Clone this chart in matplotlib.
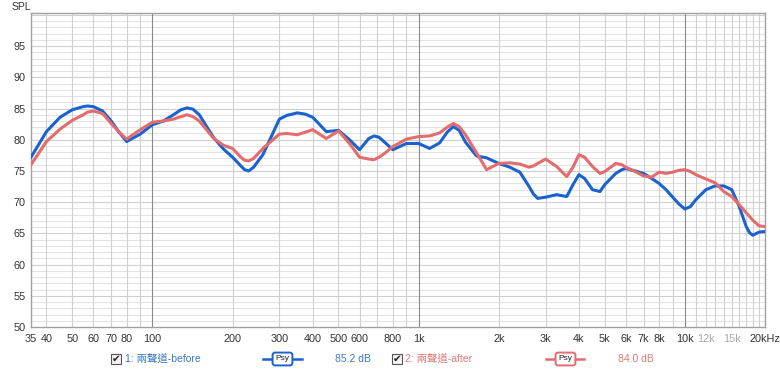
import matplotlib
matplotlib.use('Agg')
import matplotlib.pyplot as plt
from matplotlib.patches import Rectangle
from matplotlib.lines import Line2D

# Frequency response data (Hz, dB SPL)
freq = [35, 40, 45, 50, 55, 57, 60, 65, 70, 75,
        80, 90, 100, 110, 120, 128, 135, 142, 150, 170,
        185, 200, 215, 222, 230, 240, 260, 300, 320, 350,
        375, 400, 450, 500, 550, 600, 650, 680, 710, 750,
        800, 900, 1000, 1100, 1200, 1280, 1350, 1420, 1500, 1650,
        1800, 2000, 2200, 2400, 2600, 2700, 2800, 3000, 3300, 3600,
        3800, 4000, 4200, 4500, 4800, 5000, 5500, 5800, 6000, 6500,
        7000, 7500, 8000, 8500, 9000, 9500, 10000, 10500, 11000, 12000,
        13000, 14000, 15000, 16000, 17000, 17500, 18000, 19000, 20000]

before = [77.2, 81.3, 83.6, 84.8, 85.3, 85.4, 85.3, 84.6, 83.0, 81.2,
          79.7, 80.9, 82.4, 83.0, 84.0, 84.8, 85.1, 84.9, 84.0, 80.3,
          78.5, 77.2, 75.8, 75.2, 75.0, 75.6, 77.6, 83.3, 83.9, 84.3,
          84.1, 83.6, 81.3, 81.5, 80.0, 78.4, 80.2, 80.6, 80.4, 79.5,
          78.4, 79.4, 79.4, 78.6, 79.5, 81.2, 82.1, 81.5, 79.6, 77.4,
          77.1, 76.2, 75.6, 74.8, 72.5, 71.3, 70.6, 70.8, 71.2, 70.9,
          72.8, 74.4, 73.8, 72.0, 71.7, 72.8, 74.6, 75.2, 75.4, 75.0,
          74.6, 73.8, 73.0, 72.0, 70.8, 69.7, 68.9, 69.3, 70.4, 72.0,
          72.6, 72.6, 72.0, 69.3, 66.1, 65.1, 64.7, 65.2, 65.3]

after = [76.0, 79.7, 81.7, 83.1, 84.0, 84.4, 84.6, 84.2, 82.6, 81.2,
         80.1, 81.6, 82.8, 83.0, 83.3, 83.7, 84.0, 83.7, 83.0, 80.2,
         79.1, 78.6, 77.2, 76.7, 76.6, 77.0, 78.6, 80.9, 81.0, 80.8,
         81.2, 81.6, 80.2, 81.4, 79.4, 77.2, 76.9, 76.8, 77.2, 77.9,
         78.9, 80.1, 80.5, 80.6, 81.1, 82.0, 82.6, 82.1, 80.8, 77.9,
         75.2, 76.2, 76.3, 76.1, 75.6, 75.8, 76.2, 76.9, 75.7, 74.1,
         75.6, 77.6, 77.2, 75.7, 74.6, 74.9, 76.2, 76.0, 75.6, 74.9,
         74.2, 74.0, 74.8, 74.6, 74.8, 75.1, 75.2, 74.9, 74.4, 73.7,
         73.1, 71.7, 70.9, 69.6, 68.3, 67.7, 67.1, 66.2, 66.1]

xtick_vals = [35, 40, 50, 60, 70, 80, 100, 200, 300, 400, 500, 600, 800, 1000, 2000, 3000,
              4000, 5000, 6000, 7000, 8000, 10000, 12000, 15000, 20000]
xtick_text = ['35', '40', '50', '60', '70', '80', '100', '200', '300', '400', '500', '600',
              '800', '1k', '2k', '3k', '4k', '5k', '6k', '7k', '8k', '10k', '12k', '15k', '20kHz']
ytick_vals = [50, 55, 60, 65, 70, 75, 80, 85, 90, 95]

BLUE = '#1a62d0'
RED = '#e46c6c'
FONT = ['Liberation Sans', 'Noto Sans CJK TC', 'DejaVu Sans']

plt.rcParams['font.family'] = FONT

fig = plt.figure(figsize=(7.8, 3.71), dpi=100)
ax = fig.add_axes([31 / 780, 44 / 371, 734 / 780, 314 / 371])
ax.set_xscale('log')
ax.set_xlim(35, 20000)
ax.set_ylim(50, 100.3)

# grid: 1 dB horizontal lines, frequency lines per decade step
for v in range(51, 101):
    c = '#cfcfcf' if v % 5 == 0 else '#e4e4e4'
    ax.axhline(v, color=c, lw=0.8, zorder=0)
vlines = list(range(40, 100, 10)) + list(range(200, 1000, 100)) + \
    list(range(2000, 10000, 1000)) + list(range(11000, 20000, 1000))
for v in vlines:
    ax.axvline(v, color='#d0d0d0', lw=0.8, zorder=0)
for v in [100, 1000, 10000]:
    ax.axvline(v, color='#8a8a8a', lw=0.8, zorder=0)

ax.plot(freq, before, color=BLUE, lw=2.2, solid_joinstyle='round', zorder=3)
ax.plot(freq, after, color=RED, lw=2.2, solid_joinstyle='round', zorder=3)

ax.set_xticks(xtick_vals)
ax.set_xticklabels(xtick_text)
ax.xaxis.set_minor_locator(matplotlib.ticker.NullLocator())
ax.set_yticks(ytick_vals)
ax.tick_params(length=0, labelsize=7.8, colors='#333333')
ax.tick_params(axis='x', pad=5)
ax.tick_params(axis='y', pad=4)
for lab in ax.get_xticklabels():
    if lab.get_text() in ('12k', '15k'):
        lab.set_color('#aaaaaa')
for s in ax.spines.values():
    s.set_color('#a0a0a0')
    s.set_linewidth(1.0)

fig.text(12 / 780, 1 - 7 / 371, 'SPL', fontsize=7.5, color='#333333', va='center')


def px(x, y):
    return x / 780, 1 - y / 371


def checkbox(x, y):
    fig.patches.append(Rectangle(px(x, y + 5)[0:2], 10 / 780, 10 / 371, transform=fig.transFigure,
                                 facecolor='#f4f4f4', edgecolor='#555555', lw=0.8))
    fig.text(*px(x + 5, y), '\u2714', fontsize=7.5, color='#222222', ha='center', va='center',
             family='DejaVu Sans')


def psy(x0, x1, bx0, bx1, y, color):
    fig.lines.append(Line2D([px(x0, y)[0], px(x1, y)[0]], [px(x0, y)[1]] * 2,
                            transform=fig.transFigure, color=color, lw=1.8))
    fig.text(*px((bx0 + bx1) / 2, y), 'Psy', fontsize=6, color='#222222', ha='center', va='center',
             bbox=dict(boxstyle='round,pad=0.35,rounding_size=0.3', facecolor='white',
                       edgecolor=color, lw=1.4))


ly = 359
checkbox(111, ly)
fig.text(*px(125, ly), '1: 兩聲道-before', fontsize=7.5, color='#3a78c8', va='center')
psy(263, 302, 272, 293, ly, BLUE)
fig.text(*px(335, ly), '85.2 dB', fontsize=7.5, color='#3a78c8', va='center')

checkbox(392, ly)
fig.text(*px(405, ly), '2: 兩聲道-after', fontsize=7.5, color='#e07a7a', va='center')
psy(546, 584, 554, 577, ly, RED)
fig.text(*px(618, ly), '84.0 dB', fontsize=7.5, color='#e07a7a', va='center')

fig.savefig('out.png', dpi=100)
